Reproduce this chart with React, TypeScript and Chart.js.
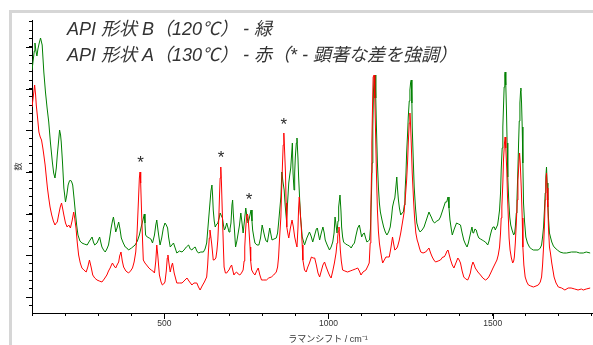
import { useEffect, useRef } from 'react';
import { Chart, registerables } from 'chart.js';

Chart.register(...registerables);

// Raman shift (cm-1), intensity (arbitrary units)
const greenSpectrum: [number, number][] = [
  [97,243],[104,262],[106,270],[109,262],[112,257],[115,264],[119,270],[123,275],[128,268],[133,241],[138,221],[143,205],[148,191],[153,171],[159,151],[163,140],[167,135],[171,145],[174,158],[178,172],[181,183],[184,178],[186,171],[190,150],[194,125],[199,111],[203,118],[207,128],[211,132],[214,133],[218,131],[221,128],[225,115],[229,101],[233,88],[237,78],[243,72],[249,70],[256,69],[265,68],[272,72],[280,76],[284,71],[288,68],[295,70],[303,76],[307,70],[310,66],[315,63],[320,61],[325,64],[330,68],[334,76],[338,85],[342,92],[345,96],[349,88],[352,81],[356,85],[361,91],[365,84],[369,75],[375,70],[381,66],[386,65],[391,63],[400,65],[411,68],[418,72],[424,78],[431,88],[435,93],[439,99],[441,90],[443,78],[448,76],[454,75],[459,74],[464,70],[470,78],[474,88],[477,93],[481,82],[487,68],[492,75],[497,85],[502,90],[506,88],[510,85],[513,76],[518,66],[523,68],[528,70],[533,65],[538,60],[546,62],[554,61],[560,63],[567,66],[574,68],[579,64],[584,63],[589,65],[594,66],[599,62],[604,60],[611,61],[619,61],[624,64],[629,70],[634,90],[639,110],[642,122],[645,128],[647,118],[649,103],[652,92],[655,86],[658,88],[663,90],[667,95],[670,100],[674,97],[677,95],[680,88],[683,83],[686,85],[690,90],[694,85],[697,81],[700,84],[703,90],[706,108],[708,113],[710,100],[713,86],[717,66],[721,72],[725,80],[729,88],[733,100],[736,92],[740,80],[744,92],[748,105],[751,98],[755,90],[759,95],[764,103],[767,92],[769,83],[773,75],[776,70],[782,68],[788,68],[793,75],[798,88],[802,82],[806,76],[810,72],[814,71],[818,79],[821,85],[825,78],[828,73],[834,74],[841,75],[845,80],[848,90],[852,105],[855,116],[858,141],[861,132],[865,123],[868,108],[872,93],[875,108],[879,130],[882,138],[885,145],[888,160],[890,170],[892,140],[895,123],[897,140],[899,156],[902,170],[904,175],[907,155],[909,136],[912,115],[915,96],[918,84],[920,76],[927,68],[934,75],[942,81],[947,77],[952,71],[958,78],[963,84],[966,85],[970,78],[973,73],[978,80],[983,86],[987,80],[990,73],[996,68],[1003,63],[1008,66],[1013,71],[1017,80],[1020,96],[1023,88],[1026,80],[1029,92],[1031,106],[1035,118],[1038,102],[1040,86],[1043,76],[1046,71],[1052,69],[1058,68],[1064,67],[1069,65],[1074,68],[1079,70],[1084,78],[1089,85],[1094,88],[1097,83],[1101,76],[1105,79],[1109,80],[1113,75],[1117,71],[1121,72],[1125,73],[1128,85],[1131,120],[1133,150],[1135,186],[1137,222],[1139,236],[1142,238],[1144,215],[1146,186],[1149,150],[1152,126],[1155,110],[1158,101],[1163,93],[1168,86],[1173,81],[1178,78],[1183,81],[1188,86],[1192,96],[1195,106],[1199,112],[1202,115],[1205,125],[1208,136],[1210,125],[1213,113],[1216,105],[1220,98],[1224,100],[1228,101],[1231,108],[1233,120],[1236,140],[1238,160],[1241,180],[1243,196],[1246,212],[1248,223],[1250,230],[1252,233],[1254,210],[1255,186],[1258,155],[1261,126],[1265,105],[1269,90],[1274,84],[1279,81],[1285,83],[1291,86],[1296,91],[1301,96],[1306,101],[1310,98],[1313,96],[1318,92],[1323,90],[1330,92],[1336,93],[1341,96],[1346,101],[1351,106],[1356,111],[1360,111],[1364,116],[1367,105],[1370,93],[1374,84],[1377,78],[1383,84],[1390,90],[1396,89],[1402,88],[1407,80],[1412,73],[1417,69],[1422,66],[1426,70],[1430,76],[1434,82],[1437,86],[1440,80],[1442,80],[1446,84],[1450,83],[1454,78],[1458,75],[1463,74],[1468,73],[1473,72],[1478,71],[1485,68],[1489,72],[1493,78],[1497,83],[1501,86],[1505,86],[1508,83],[1512,86],[1515,88],[1518,95],[1521,103],[1524,120],[1526,143],[1529,165],[1531,186],[1533,206],[1535,226],[1537,238],[1538,241],[1540,228],[1542,203],[1544,170],[1546,136],[1549,112],[1552,96],[1555,88],[1559,83],[1564,78],[1567,80],[1569,86],[1572,100],[1574,113],[1577,145],[1579,170],[1581,192],[1583,210],[1585,222],[1586,225],[1588,210],[1590,186],[1592,150],[1594,110],[1597,92],[1601,76],[1606,70],[1612,66],[1618,64],[1624,63],[1632,63],[1639,63],[1645,65],[1649,68],[1652,76],[1655,86],[1658,105],[1660,120],[1662,136],[1664,146],[1666,130],[1668,113],[1670,95],[1673,80],[1676,76],[1680,71],[1685,67],[1690,65],[1697,63],[1705,61],[1715,60],[1725,60],[1740,61],[1755,61],[1765,60],[1776,60],[1785,61],[1797,60],
];

const redSpectrum: [number, number][] = [
  [97,206],[103,222],[105,228],[108,218],[110,208],[114,195],[118,181],[122,176],[126,173],[130,165],[133,158],[137,148],[140,138],[144,125],[148,115],[152,106],[157,98],[162,92],[167,88],[171,90],[174,91],[178,98],[183,106],[187,110],[190,105],[194,98],[199,90],[204,86],[209,88],[214,85],[219,92],[224,101],[227,95],[231,85],[235,70],[239,58],[244,50],[249,45],[255,43],[262,41],[267,46],[272,53],[277,46],[282,38],[288,35],[295,33],[302,32],[310,31],[317,34],[325,38],[330,42],[335,45],[339,48],[342,50],[347,47],[352,45],[356,48],[361,51],[364,57],[368,61],[372,52],[376,46],[383,42],[391,40],[397,42],[403,45],[408,51],[413,61],[417,80],[421,111],[424,135],[426,141],[428,130],[431,98],[434,70],[436,53],[441,50],[446,48],[453,45],[460,43],[465,42],[470,40],[474,52],[477,68],[480,58],[485,38],[490,31],[494,28],[498,29],[502,31],[506,42],[509,55],[511,58],[514,50],[518,41],[522,47],[525,50],[530,40],[538,30],[546,30],[554,30],[560,32],[569,35],[575,32],[584,28],[590,30],[599,30],[604,26],[609,23],[615,27],[622,31],[629,36],[632,48],[634,60],[637,75],[639,83],[641,78],[644,70],[647,60],[649,53],[652,53],[657,55],[660,62],[663,73],[666,95],[668,116],[670,135],[672,146],[674,130],[677,96],[680,65],[682,46],[686,40],[690,40],[694,42],[697,43],[701,46],[705,48],[709,42],[712,38],[716,40],[720,41],[725,39],[730,38],[735,40],[740,43],[743,52],[745,66],[748,85],[751,98],[753,99],[755,96],[758,82],[761,66],[763,52],[766,43],[771,40],[776,38],[781,42],[786,45],[791,38],[796,33],[803,33],[811,33],[818,35],[826,36],[833,38],[841,41],[845,46],[848,56],[851,75],[855,96],[857,120],[860,150],[862,168],[864,180],[866,165],[869,140],[871,110],[873,86],[876,80],[879,75],[884,85],[889,93],[893,86],[897,76],[901,70],[904,66],[907,85],[909,105],[911,116],[914,100],[917,86],[920,68],[922,53],[927,43],[932,41],[937,46],[942,50],[948,56],[953,55],[958,55],[963,48],[968,40],[973,36],[978,42],[983,48],[988,51],[993,46],[1000,40],[1004,37],[1008,35],[1013,42],[1018,50],[1023,60],[1026,70],[1028,76],[1030,82],[1032,86],[1034,75],[1036,63],[1039,52],[1043,43],[1050,42],[1058,41],[1066,42],[1074,43],[1082,44],[1089,45],[1094,42],[1099,38],[1105,41],[1114,43],[1120,47],[1124,50],[1127,70],[1129,103],[1131,140],[1132,170],[1134,205],[1136,236],[1139,238],[1141,215],[1143,186],[1146,140],[1149,103],[1152,82],[1155,70],[1158,63],[1162,55],[1165,50],[1170,53],[1175,56],[1180,56],[1185,56],[1190,65],[1195,76],[1198,70],[1202,63],[1206,64],[1210,66],[1215,72],[1220,80],[1225,90],[1230,100],[1234,115],[1238,133],[1241,152],[1243,170],[1246,190],[1248,200],[1250,188],[1252,170],[1255,140],[1259,113],[1262,96],[1266,80],[1270,73],[1273,70],[1277,65],[1281,61],[1288,60],[1296,61],[1301,63],[1306,65],[1311,60],[1316,56],[1321,53],[1326,51],[1334,52],[1341,53],[1348,56],[1352,56],[1356,58],[1361,62],[1364,63],[1368,58],[1372,53],[1377,48],[1382,45],[1388,50],[1394,55],[1398,53],[1402,50],[1407,42],[1412,36],[1418,34],[1424,33],[1428,36],[1432,40],[1436,47],[1440,51],[1444,48],[1447,45],[1455,41],[1463,38],[1470,35],[1478,33],[1483,34],[1488,36],[1494,40],[1501,45],[1507,49],[1513,53],[1517,58],[1521,66],[1524,80],[1526,95],[1528,106],[1531,130],[1533,153],[1536,170],[1538,176],[1540,165],[1543,143],[1545,118],[1548,93],[1550,75],[1553,63],[1557,55],[1561,50],[1564,52],[1566,56],[1569,70],[1572,90],[1575,113],[1577,133],[1580,150],[1582,160],[1584,150],[1587,126],[1590,95],[1592,66],[1595,48],[1599,36],[1604,31],[1609,28],[1616,27],[1624,26],[1632,27],[1639,28],[1645,31],[1649,36],[1652,48],[1655,66],[1658,90],[1660,113],[1662,130],[1664,140],[1666,125],[1668,106],[1670,85],[1673,66],[1676,60],[1680,50],[1684,42],[1687,36],[1693,30],[1700,26],[1710,25],[1720,23],[1730,25],[1739,25],[1750,24],[1760,23],[1770,24],[1776,23],[1785,24],[1797,25],
];

// significant-difference markers (*)
const markShift = [428, 673, 758, 864];
const markLevel = [155, 160, 118, 193];

// axis ticks
const xTickValues = [100, 200, 300, 400, 500, 600, 700, 800, 900, 1000, 1100, 1200, 1300, 1400, 1500, 1600, 1700, 1800];
const xTickLabels = [500, 1000, 1500];
const yTickStart = 16;
const yTickStep = 8.34;

const titleLines = [
  'API 形状 B（120℃） - 緑',
  'API 形状 A（130℃） - 赤（* - 顕著な差を強調）',
];
const xAxisTitle = 'ラマンシフト / cm⁻¹';
const yAxisTitle = '数';

const FONT = '"Liberation Sans", "Noto Sans CJK JP", sans-serif';

const decorPlugin = {
  id: 'decor',
  afterDatasetsDraw(chart: any) {
    const { ctx, scales } = chart;
    const x = scales.x;
    const y = scales.y;
    ctx.save();
    ctx.strokeStyle = '#000';
    ctx.lineWidth = 1;
    // longer major ticks on x
    for (const v of xTickLabels) {
      const px = Math.round(x.getPixelForValue(v)) + 0.5;
      ctx.beginPath();
      ctx.moveTo(px, y.bottom);
      ctx.lineTo(px, y.bottom + 6);
      ctx.stroke();
    }
    // longer major ticks on y
    for (let k = 0; yTickStart + k * yTickStep <= y.max; k += 5) {
      const py = Math.round(y.getPixelForValue(yTickStart + k * yTickStep)) + 0.5;
      ctx.beginPath();
      ctx.moveTo(x.left, py);
      ctx.lineTo(x.left - 6, py);
      ctx.stroke();
    }
    // asterisks
    ctx.fillStyle = '#2a2a2a';
    ctx.font = '17px ' + FONT;
    ctx.textAlign = 'center';
    ctx.textBaseline = 'alphabetic';
    markShift.forEach((s, i) => {
      ctx.fillText('*', x.getPixelForValue(s), y.getPixelForValue(markLevel[i]) + 10);
    });
    // title lines
    ctx.fillStyle = '#333';
    ctx.font = 'italic 18px ' + FONT;
    ctx.textAlign = 'left';
    ctx.fillText(titleLines[0], 67, 35);
    ctx.fillText(titleLines[1], 67, 61);
    ctx.restore();
  },
};

export default function App() {
  const ref = useRef<HTMLCanvasElement | null>(null);

  useEffect(() => {
    if (!ref.current) return;
    Chart.defaults.font.family = FONT;
    const chart = new Chart(ref.current, {
      type: 'line',
      data: {
        datasets: [
          {
            label: 'A',
            data: redSpectrum.map(([sx, sy]) => ({ x: sx, y: sy })),
            borderColor: '#ff0000',
            borderWidth: 1,
            pointRadius: 0,
            fill: false,
          },
          {
            label: 'B',
            data: greenSpectrum.map(([sx, sy]) => ({ x: sx, y: sy })),
            borderColor: '#008000',
            borderWidth: 1,
            pointRadius: 0,
            fill: false,
          },
        ],
      },
      options: {
        responsive: false,
        animation: false,
        devicePixelRatio: 1,
        layout: { padding: { left: 10, right: 16, top: 20, bottom: 0 } },
        plugins: { legend: { display: false }, tooltip: { enabled: false }, title: { display: false } },
        scales: {
          x: {
            type: 'linear',
            min: 97,
            max: 1900,
            afterFit: (s: any) => { s.height = 32; },
            afterBuildTicks: (s: any) => { s.ticks = xTickValues.map((v) => ({ value: v })); },
            ticks: {
              autoSkip: false,
              maxRotation: 0,
              padding: 3,
              color: '#333',
              font: { size: 8.5 },
              callback: (v: any) => (xTickLabels.includes(Number(v)) ? String(v) : ''),
            },
            grid: { display: true, drawOnChartArea: false, drawTicks: true, tickLength: 3, color: '#000' },
            border: { display: true, color: '#000', width: 1 },
            title: { display: true, text: xAxisTitle, color: '#333', font: { size: 9 }, padding: { top: 0, bottom: 0 } },
          },
          y: {
            type: 'linear',
            min: 0,
            max: 293,
            afterFit: (s: any) => { s.width = 22; },
            afterBuildTicks: (s: any) => {
              const t: { value: number }[] = [];
              for (let k = -1; yTickStart + k * yTickStep <= 293; k++) t.push({ value: yTickStart + k * yTickStep });
              s.ticks = t;
            },
            ticks: { display: false },
            grid: { display: true, drawOnChartArea: false, drawTicks: true, tickLength: 3, color: '#000' },
            border: { display: true, color: '#000', width: 1 },
            title: { display: true, text: yAxisTitle, color: '#333', font: { size: 8 }, padding: { top: 4, bottom: 0 } },
          },
        },
      },
      plugins: [decorPlugin],
    });
    return () => chart.destroy();
  }, []);

  return (
    <div style={{ position: 'absolute', left: 0, top: 0, width: 593, height: 345, overflow: 'hidden', background: '#fff' }}>
      <div
        style={{
          position: 'absolute',
          left: 9,
          top: 10,
          width: 800,
          height: 500,
          borderLeft: '3px solid #d6d6d6',
          borderTop: '3px solid #d6d6d6',
        }}
      />
      <canvas ref={ref} width={640} height={345} style={{ position: 'absolute', left: 0, top: 0 }} />
    </div>
  );
}
